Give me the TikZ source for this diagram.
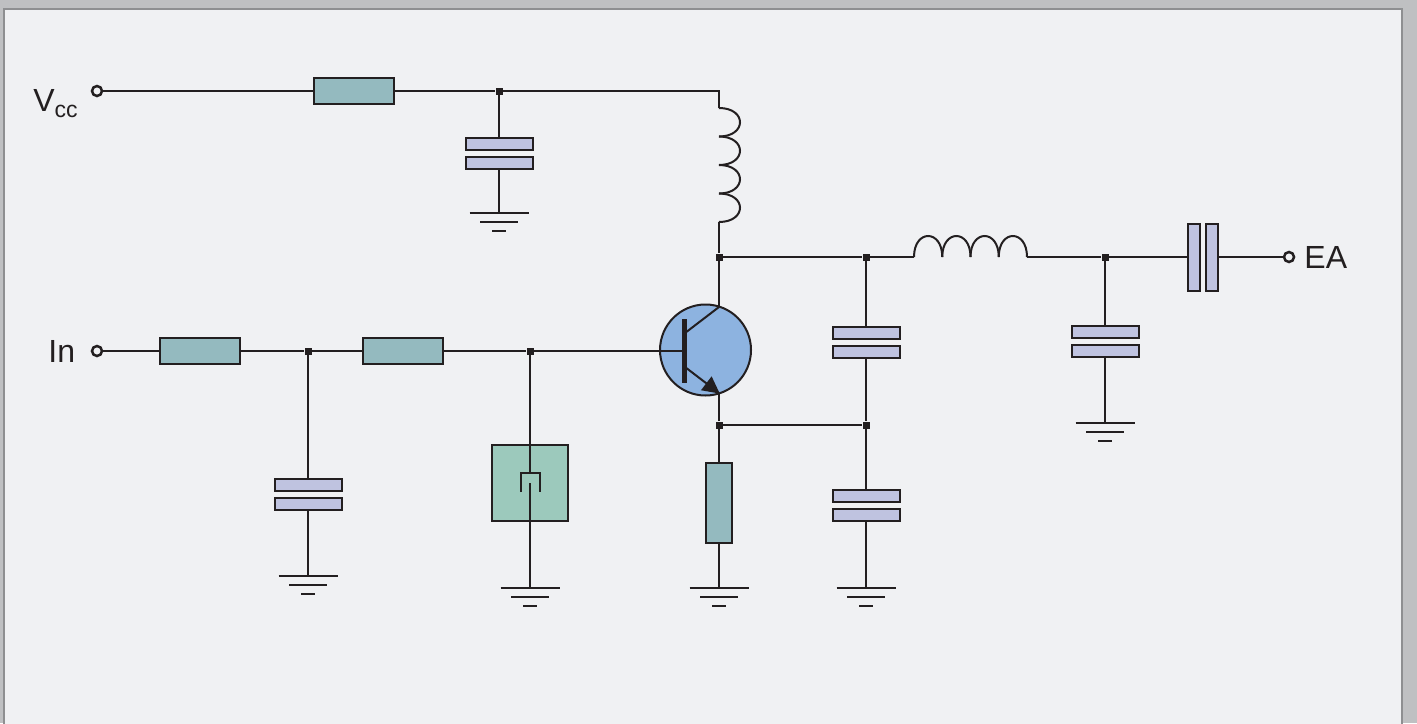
\documentclass[tikz,border=0pt]{standalone}
\usepackage{fontspec}
\setmainfont{Liberation Sans}
\usepackage{xcolor}
\usetikzlibrary{arrows.meta, positioning}

\definecolor{frameC}{HTML}{BFC0C2}
\definecolor{frameL}{HTML}{8E8F91}
\definecolor{panelC}{HTML}{F0F1F3}
\definecolor{lineC}{HTML}{231F20}
\definecolor{resC}{HTML}{94BABF}
\definecolor{capC}{HTML}{BFC3E0}
\definecolor{xtalC}{HTML}{9CC9BC}
\definecolor{transC}{HTML}{8DB3E0}

\tikzset{
  wire/.style={draw=lineC, line width=1pt},
  res/.style={rectangle, draw=lineC, line width=1pt, fill=resC, inner sep=0pt, minimum width=40pt, minimum height=13pt},
  vres/.style={res, minimum width=13pt, minimum height=40pt},
  plate/.style={rectangle, draw=lineC, line width=1pt, fill=capC, inner sep=0pt, minimum width=33.5pt, minimum height=6pt},
  vplate/.style={plate, minimum width=6pt, minimum height=33.5pt},
  dot/.style={rectangle, fill=lineC, inner sep=0pt, minimum size=3.5pt},
  term/.style={circle, draw=lineC, line width=1.25pt, fill=panelC, inner sep=0pt, minimum size=5pt},
  lbl/.style={anchor=base west, inner sep=0pt, text=lineC, font=\fontsize{16}{16}\selectfont},
  ground/.pic={
    \draw[wire] (-29.5,0) -- (29.5,0);
    \draw[wire] (-19,9) -- (19,9);
    \draw[wire] (-7,18) -- (7,18);
  }
}

\begin{document}
\begin{tikzpicture}[x=0.5pt, y=-0.5pt]

\useasboundingbox (0,0) rectangle (1417,723);
\fill[frameC] (0,0) rectangle (1417,723);
\draw[fill=panelC, draw=frameL, line width=0.75pt] (4,9) rectangle (1402,730);

% terminals and labels
\node[term] (vcc) at (97,91) {};
\node[term] (in) at (97,351) {};
\node[term] (ea) at (1289,257) {};
\node[lbl] (vccT) at (33,111) {V\raisebox{-3.25pt}{\fontsize{11.5}{11.5}\selectfont cc}};
\node[lbl] (inT) at (48,362) {In};
\node[lbl] (eaT) at (1304,268) {EA};

% resistors
\node[res] (r1) at (354,91) {};
\node[res] (r2) at (200,351) {};
\node[res] (r3) at (402.5,351) {};
\node[vres] (r4) at (719,503) {};

% capacitors
\node[plate] (c1a) at (499,144) {};
\node[plate] (c1b) at (499,163) {};
\node[plate] (c2a) at (308,485) {};
\node[plate] (c2b) at (308,504) {};
\node[plate] (c3a) at (866,333) {};
\node[plate] (c3b) at (866,352) {};
\node[plate] (c4a) at (866,496) {};
\node[plate] (c4b) at (866,515) {};
\node[plate] (c5a) at (1105,332) {};
\node[plate] (c5b) at (1105,351) {};
\node[vplate] (c6a) at (1193.5,257) {};
\node[vplate] (c6b) at (1212,257) {};

% junctions
\node[dot] (j1) at (499,91) {};
\node[dot] (j2) at (308,351) {};
\node[dot] (j3) at (530,351) {};
\node[dot] (j4) at (719,257) {};
\node[dot] (j5) at (866,257) {};
\node[dot] (j6) at (719,425) {};
\node[dot] (j7) at (866,425) {};
\node[dot] (j8) at (1105,257) {};

% grounds
\coordinate (g1) at (499,213);
\coordinate (g2) at (308,576);
\coordinate (g3) at (530,588);
\coordinate (g4) at (719,588);
\coordinate (g5) at (866,588);
\coordinate (g6) at (1105,423);
\foreach \g in {g1,g2,g3,g4,g5,g6}
  \pic at (\g) {ground};

% crystal
\node[rectangle, draw=lineC, line width=1pt, fill=xtalC, minimum size=38pt, inner sep=0pt] (xtal) at (530,483) {};
\coordinate (xtalA) at (530,473);
\coordinate (xtalB) at (530,483);
\draw[wire] (520.5,492) -- (520.5,473) -- (539.5,473) -- (539.5,492);

% transistor
\node[circle, draw=lineC, line width=1pt, fill=transC, minimum size=45.5pt, inner sep=0pt] (q) at (705.5,350) {};
\node[rectangle, fill=lineC, minimum width=2.1pt, minimum height=32pt, inner sep=0pt] (qbar) at (684.5,351) {};
\coordinate (qCin) at (685,333);
\coordinate (qC) at (719,307);
\coordinate (qEin) at (685,367);
\coordinate (qE) at (719,393);
\draw[wire] (qCin) -- (qC);
\draw[wire, -{Triangle[length=8.5pt,width=8.5pt]}, shorten >=-0.5pt] (qEin) -- (qE);

% inductors
\coordinate (lcT) at (719,108);
\coordinate (lcB) at (719,222);
\coordinate (llA) at (914,257);
\coordinate (llB) at (1027,257);
\foreach \k in {0,1,2,3} {
  \draw[wire] (719,{108+28.5*\k}) .. controls (747,{108+28.5*\k}) and (747,{136.5+28.5*\k}) .. (719,{136.5+28.5*\k});
  \draw[wire] ({914+28.25*\k},257) .. controls ({914+28.25*\k},229) and ({942.25+28.25*\k},229) .. ({942.25+28.25*\k},257);
}

% wires
\draw[wire] (vcc) -- (r1);
\draw[wire] (r1) -- (j1) -| (lcT);
\draw[wire] (j1) -- (c1a);
\draw[wire] (c1b) -- (g1);
\draw[wire] (in) -- (r2);
\draw[wire] (r2) -- (j2) -- (r3);
\draw[wire] (r3) -- (j3) -- (qbar);
\draw[wire] (j2) -- (c2a);
\draw[wire] (c2b) -- (g2);
\draw[wire] (j3) -- (xtalA);
\draw[wire] (xtalB) -- (g3);
\draw[wire] (lcB) -- (j4) -- (qC);
\draw[wire] (qE) -- (j6) -- (r4);
\draw[wire] (r4) -- (g4);
\draw[wire] (j6) -- (j7);
\draw[wire] (j4) -- (j5) -- (llA);
\draw[wire] (llB) -- (j8) -- (c6a);
\draw[wire] (c6b) -- (ea);
\draw[wire] (j5) -- (c3a);
\draw[wire] (c3b) -- (j7) -- (c4a);
\draw[wire] (c4b) -- (g5);
\draw[wire] (j8) -- (c5a);
\draw[wire] (c5b) -- (g6);

\end{tikzpicture}
\end{document}
